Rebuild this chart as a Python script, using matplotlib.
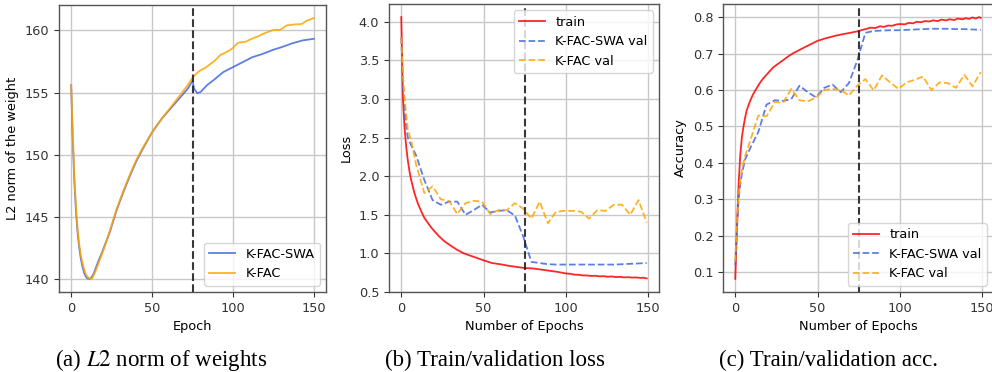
import matplotlib
matplotlib.use("Agg")
import matplotlib.pyplot as plt

# ---------------- data ----------------
# (a) L2 norm of weights
norm_pre_epochs = [0, 1, 2, 3, 4, 5, 6, 7, 8, 9, 10, 11, 12, 13, 14, 15, 17, 19, 21, 24,
                   28, 32, 36, 40, 44, 50, 56, 62, 68, 72, 75]
norm_pre_kfac = [155.6, 151.7, 148.2, 145.8, 144.0, 142.8, 141.9, 141.3, 140.8, 140.4,
                 140.2, 140.05, 140.0, 140.05, 140.3, 140.6, 141.3, 142.0, 142.7, 143.9,
                 145.6, 147.0, 148.3, 149.5, 150.5, 151.8, 152.9, 153.9, 154.9, 155.6, 156.2]
norm_pre_swa = [155.6, 151.3, 147.8, 145.4, 143.7, 142.5, 141.6, 141.0, 140.5, 140.2,
                140.05, 140.0, 140.05, 140.2, 140.45, 140.8, 141.5, 142.1, 142.8, 143.8,
                145.5, 146.9, 148.2, 149.4, 150.4, 151.8, 152.9, 153.8, 154.7, 155.3, 155.95]
norm_post_kfac_epochs = [78, 80, 83, 86, 89, 92, 95, 98, 100, 103, 105, 108, 111, 113,
                         116, 118, 121, 124, 126, 129, 131, 133, 136, 139, 141, 143, 145,
                         148, 150]
norm_post_kfac = [156.6, 156.8, 157.0, 157.3, 157.6, 158.0, 158.2, 158.4, 158.6, 159.0,
                  159.05, 159.1, 159.3, 159.4, 159.55, 159.7, 159.85, 160.0, 160.05,
                  160.05, 160.2, 160.4, 160.45, 160.5, 160.5, 160.55, 160.75, 160.9, 161.0]
norm_post_swa_epochs = [76, 78, 80, 84, 88, 94, 100, 106, 112, 118, 125, 131, 137, 143, 150]
norm_post_swa = [155.3, 154.95, 155.05, 155.6, 156.0, 156.65, 157.05, 157.45, 157.85,
                 158.1, 158.45, 158.7, 158.98, 159.2, 159.33]

# (b) loss
train_loss_epochs = [0, 1, 2, 3, 4, 5, 6, 8, 10, 12, 14, 16, 18, 20, 23, 26, 30, 34, 38, 42,
                     46, 50, 55, 60, 65, 70, 75, 80, 85, 90, 95, 100, 103, 105, 108, 110,
                     113, 115, 118, 120, 123, 125, 128, 130, 133, 135, 138, 140, 142, 145,
                     147, 149]
train_loss = [4.06, 3.0, 2.62, 2.38, 2.2, 2.06, 1.95, 1.78, 1.65, 1.55, 1.46, 1.40, 1.34,
              1.29, 1.22, 1.16, 1.10, 1.045, 1.0, 0.97, 0.94, 0.91, 0.875, 0.86, 0.84,
              0.825, 0.81, 0.805, 0.79, 0.775, 0.76, 0.74, 0.735, 0.725, 0.722, 0.715,
              0.714, 0.708, 0.71, 0.703, 0.705, 0.698, 0.701, 0.693, 0.696, 0.689, 0.692,
              0.686, 0.689, 0.683, 0.685, 0.676]
val_epochs = [0, 1, 2, 3, 4, 6, 9, 14, 19, 24, 29, 34, 39, 44, 49, 54, 59, 64, 69, 74, 79,
              84, 89, 94, 99, 104, 109, 114, 119, 124, 129, 134, 139, 144, 149]
swa_val_loss = [3.8, 3.2, 2.85, 2.63, 2.5, 2.4, 2.27, 1.95, 1.69, 1.63, 1.67, 1.67, 1.50,
                1.56, 1.63, 1.53, 1.55, 1.56, 1.49, 1.22, 0.89, 0.875, 0.86, 0.855, 0.855,
                0.855, 0.855, 0.855, 0.855, 0.855, 0.855, 0.86, 0.865, 0.87, 0.875]
kfac_val_loss = [3.8, 3.3, 3.02, 2.8, 2.6, 2.46, 2.15, 1.78, 1.87, 1.70, 1.68, 1.51, 1.65,
                 1.68, 1.67, 1.51, 1.56, 1.56, 1.65, 1.58, 1.45, 1.67, 1.39, 1.54, 1.55,
                 1.55, 1.54, 1.45, 1.56, 1.55, 1.63, 1.63, 1.50, 1.69, 1.40]

# (c) accuracy
train_acc_epochs = [0, 1, 2, 3, 4, 5, 6, 7, 9, 11, 13, 15, 17, 19, 21, 23, 26, 30, 33, 36,
                    39, 42, 46, 50, 55, 60, 65, 70, 75, 78, 80, 82, 85, 88, 90, 93, 95, 98,
                    100, 103, 105, 108, 110, 113, 115, 118, 120, 123, 125, 128, 130, 133,
                    135, 138, 140, 142, 144, 146, 148, 149]
train_acc = [0.082, 0.22, 0.34, 0.42, 0.47, 0.50, 0.525, 0.545, 0.57, 0.59, 0.605, 0.62,
             0.632, 0.642, 0.652, 0.662, 0.672, 0.685, 0.695, 0.703, 0.71, 0.717, 0.726,
             0.735, 0.742, 0.748, 0.753, 0.757, 0.762, 0.766, 0.768, 0.771, 0.770, 0.775,
             0.773, 0.777, 0.776, 0.780, 0.781, 0.780, 0.784, 0.783, 0.787, 0.786, 0.789,
             0.788, 0.791, 0.789, 0.793, 0.791, 0.794, 0.792, 0.796, 0.794, 0.797, 0.795,
             0.799, 0.796, 0.800, 0.798]
swa_val_acc = [0.12, 0.22, 0.30, 0.34, 0.37, 0.41, 0.44, 0.485, 0.56, 0.572, 0.57, 0.575,
               0.612, 0.594, 0.58, 0.606, 0.615, 0.594, 0.619, 0.680, 0.757, 0.762, 0.763,
               0.764, 0.764, 0.765, 0.766, 0.767, 0.768, 0.768, 0.768, 0.767, 0.767, 0.766,
               0.765]
kfac_val_acc = [0.13, 0.23, 0.31, 0.35, 0.38, 0.42, 0.46, 0.53, 0.528, 0.567, 0.565, 0.603,
                0.572, 0.569, 0.579, 0.60, 0.603, 0.60, 0.585, 0.612, 0.63, 0.599, 0.64,
                0.621, 0.603, 0.621, 0.628, 0.637, 0.60, 0.621, 0.619, 0.606, 0.642, 0.61,
                0.649]

swa_start = 75
xticks = [0, 50, 100, 150]
captions = ["(a) $L2$ norm of weights", "(b) Train/validation loss", "(c) Train/validation acc."]

# ---------------- style ----------------
plt.rcParams['font.family'] = ['DejaVu Sans']
plt.rcParams['mathtext.fontset'] = 'stix'
FS = 9.3
C_BLUE = 'royalblue'
C_ORANGE = 'orange'
C_RED = 'red'
ALPHA = 0.85

fig = plt.figure(figsize=(9.92, 3.72), dpi=100)
W, H = 992.0, 372.0


def add_ax(l, r, t, b):
    return fig.add_axes([l / W, 1 - b / H, (r - l) / W, (b - t) / H])


def style(ax):
    ax.grid(True, color='#c8c8c8', linewidth=1.0)
    ax.set_axisbelow(True)
    for s in ax.spines.values():
        s.set_color('#555555')
        s.set_linewidth(1.0)
    ax.tick_params(labelsize=FS, colors='#333333', length=3.5, width=0.8)
    ax.set_xticks(xticks)
    ax.axvline(swa_start, color='#222222', linestyle='--', linewidth=1.5, alpha=0.9)


ax1 = add_ax(59, 326, 5, 292)
ax2 = add_ax(389, 659, 4, 292)
ax3 = add_ax(723, 993, 4, 292)

# (a)
ax1.plot(norm_pre_epochs + norm_post_swa_epochs, norm_pre_swa + norm_post_swa,
         color=C_BLUE, alpha=ALPHA, lw=1.3, label='K-FAC-SWA')
ax1.plot(norm_pre_epochs + norm_post_kfac_epochs, norm_pre_kfac + norm_post_kfac,
         color=C_ORANGE, alpha=ALPHA, lw=1.3, label='K-FAC')
ax1.set_yticks([140, 145, 150, 155, 160])
ax1.set_xlabel('Epoch', fontsize=FS)
ax1.set_ylabel('L2 norm of the weight', fontsize=FS)
style(ax1)
ax1.legend(loc='lower right', fontsize=FS)

# (b)
ax2.plot(train_loss_epochs, train_loss, color=C_RED, alpha=ALPHA, lw=1.3, label='train')
ax2.plot(val_epochs, swa_val_loss, color=C_BLUE, alpha=ALPHA, lw=1.3, ls='--', label='K-FAC-SWA val')
ax2.plot(val_epochs, kfac_val_loss, color=C_ORANGE, alpha=ALPHA, lw=1.3, ls='--', label='K-FAC val')
ax2.set_yticks([0.5, 1.0, 1.5, 2.0, 2.5, 3.0, 3.5, 4.0])
ax2.set_xlabel('Number of Epochs', fontsize=FS)
ax2.set_ylabel('Loss', fontsize=FS)
style(ax2)
ax2.legend(loc='upper right', fontsize=FS)

# (c)
ax3.plot(train_acc_epochs, train_acc, color=C_RED, alpha=ALPHA, lw=1.3, label='train')
ax3.plot(val_epochs, swa_val_acc, color=C_BLUE, alpha=ALPHA, lw=1.3, ls='--', label='K-FAC-SWA val')
ax3.plot(val_epochs, kfac_val_acc, color=C_ORANGE, alpha=ALPHA, lw=1.3, ls='--', label='K-FAC val')
ax3.set_yticks([0.1, 0.2, 0.3, 0.4, 0.5, 0.6, 0.7, 0.8])
ax3.set_xlabel('Number of Epochs', fontsize=FS)
ax3.set_ylabel('Accuracy', fontsize=FS)
style(ax3)
ax3.legend(loc='lower right', fontsize=FS)

for ax, cap in zip([ax1, ax2, ax3], captions):
    x0 = ax.get_position().x0
    fig.text(x0 - 4 / W, 6 / H, cap, fontsize=16.5, family='Liberation Serif',
             ha='left', va='baseline')

fig.savefig('out.png', dpi=100)
